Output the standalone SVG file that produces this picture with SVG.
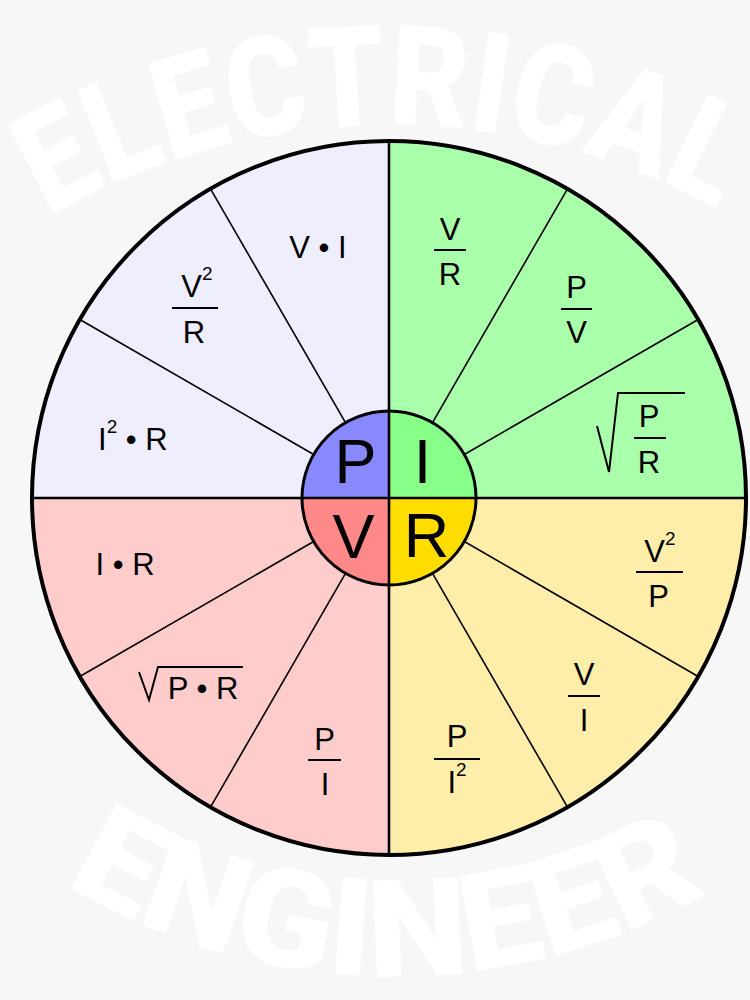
<svg xmlns="http://www.w3.org/2000/svg" width="750" height="1000" viewBox="0 0 750 1000">
  <style>
    .bg { fill: #f7f7f7; }
    .arc-text { fill: #ffffff; font-family: Roboto, "Liberation Sans", sans-serif; font-weight: 900; }
    .f { font-family: "Liberation Sans", Arial, sans-serif; font-size: 31px; fill: #000; text-anchor: middle; }
    .sup { font-size: 19px; }
    .big { font-family: "Liberation Sans", Arial, sans-serif; font-size: 63px; fill: #000; text-anchor: middle; }
    .bar { stroke: #000; stroke-width: 2; fill: none; }
    .rad { stroke: #000; stroke-width: 2; fill: none; stroke-linejoin: miter; }
    .div { stroke: #000; stroke-width: 1.6; fill: none; }
    .axis { stroke: #000; stroke-width: 2.6; fill: none; }
  </style>
  <defs>
    <path id="arcTop" d="M 48 217 A 678 678 0 0 1 730 217"/>
    <path id="arcBot" d="M 65 884 A 630 630 0 0 0 721 884"/>
  </defs>

  <rect class="bg" x="0" y="0" width="750" height="1000"/>

  <g id="title">
    <text class="arc-text" font-size="140"><textPath href="#arcTop" textLength="700" lengthAdjust="spacingAndGlyphs">ELECTRICAL</textPath></text>
    <text class="arc-text" font-size="136"><textPath href="#arcBot" textLength="675" lengthAdjust="spacingAndGlyphs">ENGINEER</textPath></text>
  </g>

  <g id="wheel">
    <g id="quadrants">
      <path d="M389 498 L32 498 A357 357 0 0 1 389 141 Z" fill="#eeeeff"/>
      <path d="M389 498 L389 141 A357 357 0 0 1 746 498 Z" fill="#aaffaa"/>
      <path d="M389 498 L746 498 A357 357 0 0 1 389 855 Z" fill="#ffeeaa"/>
      <path d="M389 498 L389 855 A357 357 0 0 1 32 498 Z" fill="#ffcccc"/>
    </g>
    <g id="dividers">
      <line class="div" x1="432.5" y1="422.7" x2="567.5" y2="188.8"/>
      <line class="div" x1="464.3" y1="454.5" x2="698.2" y2="319.5"/>
      <line class="div" x1="464.3" y1="541.5" x2="698.2" y2="676.5"/>
      <line class="div" x1="432.5" y1="573.3" x2="567.5" y2="807.2"/>
      <line class="div" x1="345.5" y1="573.3" x2="210.5" y2="807.2"/>
      <line class="div" x1="313.7" y1="541.5" x2="79.8" y2="676.5"/>
      <line class="div" x1="313.7" y1="454.5" x2="79.8" y2="319.5"/>
      <line class="div" x1="345.5" y1="422.7" x2="210.5" y2="188.8"/>
      <line class="axis" x1="32" y1="498" x2="746" y2="498"/>
      <line class="axis" x1="389" y1="141" x2="389" y2="855"/>
    </g>
    <circle cx="389" cy="498" r="357" fill="none" stroke="#000" stroke-width="4"/>
  </g>

  <g id="hub">
    <path d="M389 498 L302 498 A87 87 0 0 1 389 411 Z" fill="#8888ff"/>
    <path d="M389 498 L389 411 A87 87 0 0 1 476 498 Z" fill="#88ff88"/>
    <path d="M389 498 L476 498 A87 87 0 0 1 389 585 Z" fill="#ffdd00"/>
    <path d="M389 498 L389 585 A87 87 0 0 1 302 498 Z" fill="#ff8888"/>
    <line class="axis" x1="302" y1="498" x2="476" y2="498"/>
    <line class="axis" x1="389" y1="411" x2="389" y2="585"/>
    <circle cx="389" cy="498" r="87" fill="none" stroke="#000" stroke-width="3"/>
    <text class="big" x="355.5" y="483">P</text>
    <text class="big" x="422.5" y="483">I</text>
    <text class="big" x="353.5" y="558">V</text>
    <text class="big" x="426.5" y="557">R</text>
  </g>

  <g id="formula-P">
    <text class="f" x="318" y="258">V • I</text>
    <text class="f" x="197" y="297">V<tspan class="sup" dy="-17">2</tspan></text>
    <line class="bar" x1="172" y1="308" x2="218" y2="308"/>
    <text class="f" x="194" y="343">R</text>
    <text class="f" x="98" y="450" text-anchor="start" style="text-anchor:start">I<tspan class="sup" dy="-17">2</tspan><tspan dy="17"> • R</tspan></text>
  </g>

  <g id="formula-I">
    <text class="f" x="450" y="240">V</text>
    <line class="bar" x1="434" y1="250" x2="466" y2="250"/>
    <text class="f" x="450" y="285">R</text>
    <text class="f" x="576.5" y="298">P</text>
    <line class="bar" x1="561" y1="309" x2="592" y2="309"/>
    <text class="f" x="576.5" y="343">V</text>
    <polyline class="rad" points="597,426 609,472 618,393 685,393"/>
    <text class="f" x="649" y="427">P</text>
    <line class="bar" x1="634" y1="438" x2="666" y2="438"/>
    <text class="f" x="649" y="473">R</text>
  </g>

  <g id="formula-R">
    <text class="f" x="660" y="562">V<tspan class="sup" dy="-17">2</tspan></text>
    <line class="bar" x1="636" y1="572" x2="683" y2="572"/>
    <text class="f" x="658.5" y="607">P</text>
    <text class="f" x="584" y="685">V</text>
    <line class="bar" x1="568" y1="696" x2="600" y2="696"/>
    <text class="f" x="584" y="731">I</text>
    <text class="f" x="457" y="747">P</text>
    <line class="bar" x1="434" y1="759" x2="480" y2="759"/>
    <text class="f" x="457" y="793">I<tspan class="sup" dy="-17">2</tspan></text>
  </g>

  <g id="formula-V">
    <text class="f" x="125" y="575">I • R</text>
    <polyline class="rad" points="139,672 149,700 158,667 243,667"/>
    <text class="f" x="203" y="699">P • R</text>
    <text class="f" x="324.5" y="750">P</text>
    <line class="bar" x1="308" y1="760" x2="341" y2="760"/>
    <text class="f" x="325" y="795">I</text>
  </g>
</svg>
